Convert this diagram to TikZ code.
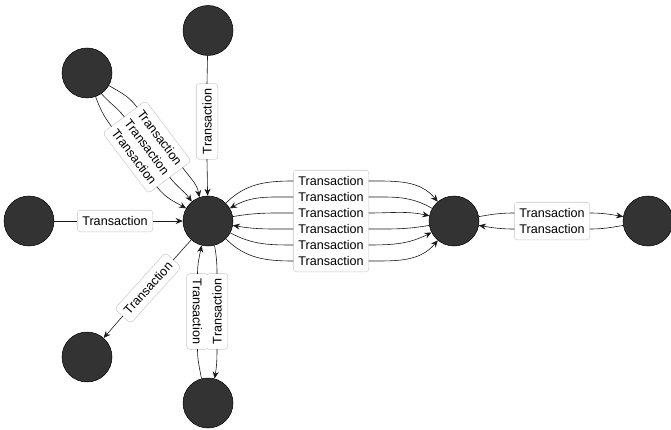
\documentclass[tikz,border=0pt]{standalone}
\usepackage{fontspec}
\setmainfont{Liberation Sans}
\usepackage{tikz}
\usetikzlibrary{arrows.meta}

\tikzset{
    party/.style={circle, fill=black!80, draw=black, line width=0.5pt, minimum size=50pt, inner sep=0pt},
    txframe/.style={draw=black!22, line width=1.2pt, rounded corners=3pt, minimum width=75pt, minimum height=21pt, inner sep=0pt},
    txlabel/.style={fill=white, rounded corners=3pt, minimum width=75pt, minimum height=21pt, inner sep=0pt, font=\fontsize{12.6}{14}\selectfont},
    flow/.style={draw=black!90, line width=0.6pt, -{Stealth[length=7pt, width=6pt]}},
}

% name/x/y/rotation of every label
\def\txlabels{lt/207/307.5/90, ll/115/208/0,
    la/159.8/291.6/-53, lb/147/282/-53, lc/134.2/272.4/-53,
    r1/331/248/0, r2/331/232/0, r3/331/216/0, r4/331/200/0, r5/331/184/0, r6/331/168/0,
    q1/552/216/0, q2/552/200/0,
    lbl/148/141/48, bl1/197.5/117.5/-90, br/217/117.5/90}

\begin{document}
\begin{tikzpicture}[x=1pt, y=1pt]
    \useasboundingbox (0,0) rectangle (671,429);

    % parties
    \node[party] (top) at (208,398.5) {};
    \node[party] (tleft) at (87,356) {};
    \node[party] (left) at (29,208) {};
    \node[party] (hub) at (208,208) {};
    \node[party] (peer) at (454,208) {};
    \node[party] (far) at (648,208) {};
    \node[party] (bleft) at (87,72) {};
    \node[party] (bottom) at (208,26) {};

    % label frames first, then the labels on top of them
    \foreach \nm/\x/\y/\rot in \txlabels
        \node[txframe, rotate=\rot] (f-\nm) at (\x,\y) {};
    \foreach \nm/\x/\y/\rot in \txlabels
        \node[txlabel, rotate=\rot] (\nm) at (\x,\y) {Transaction};

    % top and left into the hub
    \draw[flow] (top) -- (lt.east) (lt.west) -- (hub);
    \draw[flow] (left) -- (ll.west) (ll.east) -- (hub);

    % three from the top left
    \draw[flow] (tleft.-30) to[out=-30, in=127] (la.west) (la.east) to[out=-53, in=100] (hub.110);
    \draw[flow] (tleft.-55) to[out=-50, in=127] (lb.west) (lb.east) to[out=-53, in=125] (hub.130);
    \draw[flow] (tleft.-70) to[out=-70, in=127] (lc.west) (lc.east) to[out=-53, in=150] (hub.150);

    % hub and peer
    \draw[flow] (hub.45) to[out=45, in=180] (r1.west) (r1.east) to[out=0, in=130] (peer.130);
    \draw[flow] (peer.150) to[out=150, in=0] (r2.east) (r2.west) to[out=180, in=30] (hub.30);
    \draw[flow] (hub.10) to[out=10, in=180] (r3.west) (r3.east) to[out=0, in=168] (peer.168);
    \draw[flow] (peer.-170) to[out=-170, in=0] (r4.east) (r4.west) to[out=180, in=-10] (hub.-10);
    \draw[flow] (hub.-28) to[out=-28, in=180] (r5.west) (r5.east) to[out=0, in=-153] (peer.-153);
    \draw[flow] (hub.-45) to[out=-45, in=180] (r6.west) (r6.east) to[out=0, in=-130] (peer.-130);

    % peer and far right
    \draw[flow] (peer.10) to[out=10, in=180] (q1.west) (q1.east) to[out=0, in=170] (far.170);
    \draw[flow] (far.-170) to[out=-170, in=0] (q2.east) (q2.west) to[out=180, in=-10] (peer.-10);

    % bottom
    \draw[flow] (hub) -- (lbl.east) (lbl.west) -- (bleft);
    \draw[flow] (bottom.105) to[out=100, in=-90] (bl1.east) (bl1.west) to[out=90, in=-100] (hub.-105);
    \draw[flow] (hub.-75) to[out=-80, in=90] (br.east) (br.west) to[out=-90, in=80] (bottom.75);
\end{tikzpicture}
\end{document}
